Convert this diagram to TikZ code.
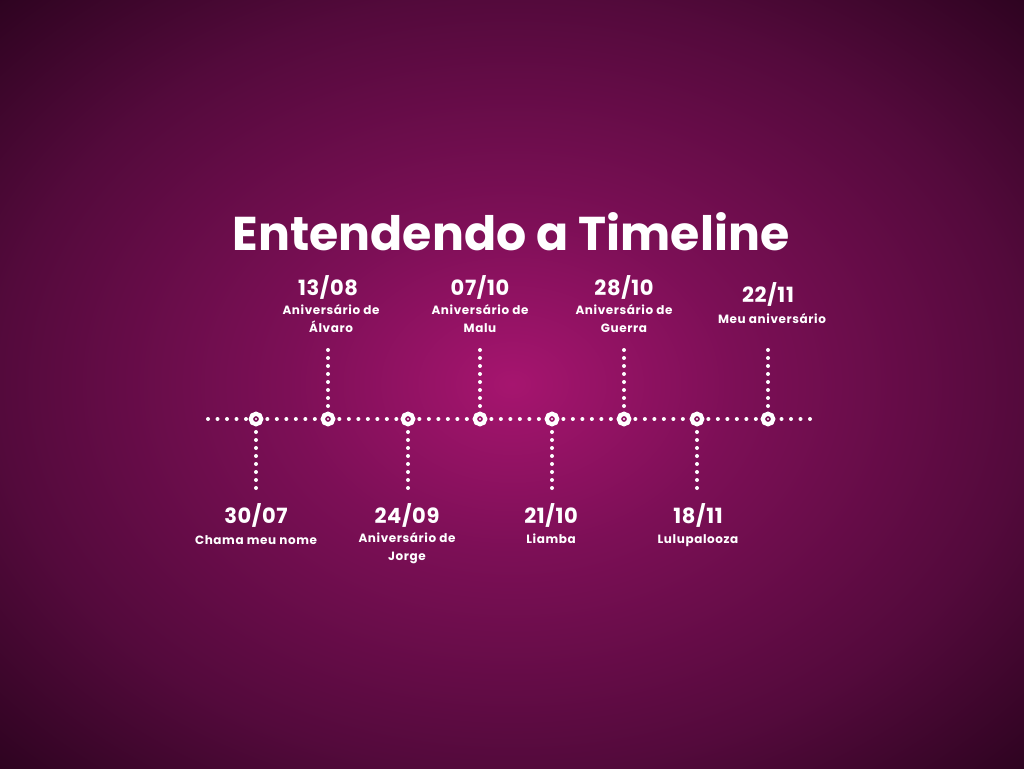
\documentclass[tikz,border=0pt]{standalone}
\usepackage{fontspec}
\setmainfont{Poppins}
\usepackage{tikz}
\usetikzlibrary{positioning}

\definecolor{glowc}{HTML}{A6156F}
\definecolor{glowm}{HTML}{7C0F56}
\definecolor{glowe}{HTML}{540A3C}
\definecolor{glowk}{HTML}{2C031F}
\pgfdeclareradialshading{bgglow}{\pgfpoint{0bp}{0bp}}{color(0bp)=(glowc); color(11bp)=(glowm); color(25bp)=(glowe); color(36bp)=(glowk); color(50bp)=(glowk)}

\tikzset{
  dotline/.style={white, line width=4pt, line cap=round, dash pattern=on 0pt off 9.5pt},
  vdotline/.style={white, line width=4pt, line cap=round, dash pattern=on 0pt off 8pt},
  marker/.style={draw=white, circle, line width=4.2pt, minimum size=10.5pt, inner sep=0pt,
    path picture={\fill[white] (path picture bounding box.center) circle (1.2pt);}},
  datelbl/.style={white, anchor=base, inner sep=0pt, font=\fontsize{21}{24}\selectfont\bfseries\addfontfeatures{LetterSpace=3}},
  sublbl/.style={white, anchor=base, inner sep=0pt, align=center, font=\fontsize{12}{18}\selectfont\bfseries\addfontfeatures{LetterSpace=5}}
}

\begin{document}
\begin{tikzpicture}[x=1pt, y=-1pt]

\shade[shading=bgglow] (0,0) rectangle (1024,768);
\useasboundingbox (0,0) rectangle (1024,768);

\node[white, font=\fontsize{47.4}{52}\selectfont\bfseries] (title) at (511,232) {Entendendo a Timeline};

% marcadores
\node[marker] (m1) at (256,419) {};
\node[marker] (m2) at (328,419) {};
\node[marker] (m3) at (408,419) {};
\node[marker] (m4) at (480,419) {};
\node[marker] (m5) at (552,419) {};
\node[marker] (m6) at (624,419) {};
\node[marker] (m7) at (697,419) {};
\node[marker] (m8) at (768,419) {};

% eixo
\coordinate (axL) at (208,419);
\coordinate (axR) at (810,419);
\draw[dotline] (axL) -- (m1);
\draw[dotline, shorten <=4pt] (m1) -- (m2);
\draw[dotline, shorten <=4pt] (m2) -- (m3);
\draw[dotline, shorten <=4pt] (m3) -- (m4);
\draw[dotline, shorten <=4pt] (m4) -- (m5);
\draw[dotline, shorten <=4pt] (m5) -- (m6);
\draw[dotline, shorten <=4pt] (m6) -- (m7);
\draw[dotline, shorten <=4pt] (m7) -- (m8);
\draw[dotline] (axR) -- (m8);

% ligacoes
\coordinate (e1) at (256,488);
\coordinate (e2) at (328,350);
\coordinate (e3) at (408,488);
\coordinate (e4) at (480,350);
\coordinate (e5) at (552,488);
\coordinate (e6) at (624,350);
\coordinate (e7) at (697,488);
\coordinate (e8) at (768,350);

\draw[vdotline] (e1) -- (m1);
\draw[vdotline] (e2) -- (m2);
\draw[vdotline] (e3) -- (m3);
\draw[vdotline] (e4) -- (m4);
\draw[vdotline] (e5) -- (m5);
\draw[vdotline] (e6) -- (m6);
\draw[vdotline] (e7) -- (m7);
\draw[vdotline] (e8) -- (m8);

% datas de cima
\node[datelbl] (d2) at (328,295) {13/08};
\node[sublbl] (s2) at (331,332) {Aniversário de\\Álvaro};
\node[datelbl] (d4) at (480,295) {07/10};
\node[sublbl] (s4) at (480,332) {Aniversário de\\Malu};
\node[datelbl] (d6) at (624,295) {28/10};
\node[sublbl] (s6) at (624,332) {Aniversário de\\Guerra};
\node[datelbl] (d8) at (768,302) {22/11};
\node[sublbl] (s8) at (772,323) {Meu aniversário};

% datas de baixo
\node[datelbl] (d1) at (256,523) {30/07};
\node[sublbl] (s1) at (256,544) {Chama meu nome};
\node[datelbl] (d3) at (407,523) {24/09};
\node[sublbl] (s3) at (407,560) {Aniversário de\\Jorge};
\node[datelbl] (d5) at (551,523) {21/10};
\node[sublbl] (s5) at (551,543) {Liamba};
\node[datelbl] (d7) at (698,523) {18/11};
\node[sublbl] (s7) at (698,543) {Lulupalooza};

\end{tikzpicture}
\end{document}
